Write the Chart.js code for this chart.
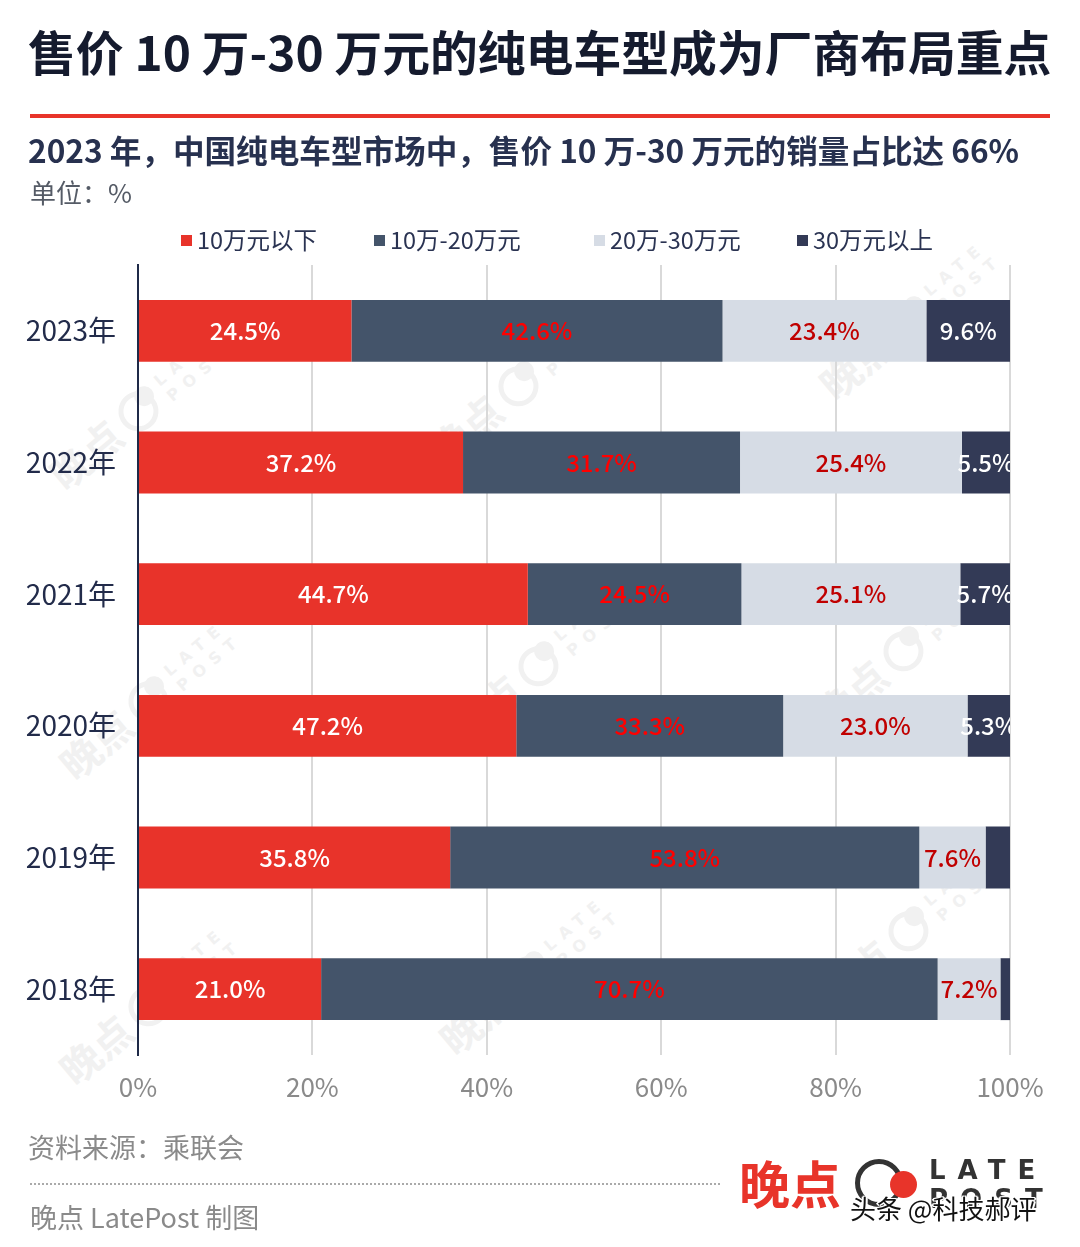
<!DOCTYPE html>
<html><head><meta charset="utf-8">
<script src="https://cdn.jsdelivr.net/npm/chart.js@4.4.0/dist/chart.umd.min.js"></script>
<style>
html,body{margin:0;padding:0;background:#fff;}
body{width:1080px;height:1247px;position:relative;overflow:hidden;font-family:"Noto Sans CJK SC","Noto Sans",sans-serif;}
#c{position:absolute;left:0;top:0;z-index:1;}
.t{position:absolute;white-space:nowrap;line-height:1;z-index:2;}
#title{left:28px;top:27px;font-size:47.8px;font-weight:700;color:#151b2e;}
#rule{position:absolute;left:30px;top:114px;width:1020px;height:4px;background:#e8342a;}
#sub{left:28px;top:134px;font-size:31.6px;font-weight:700;color:#27314f;}
#unit{left:30px;top:179px;font-size:26px;color:#555b66;}
.lg{position:absolute;top:228px;height:24px;display:flex;align-items:center;font-size:23.5px;color:#2a3352;line-height:1;z-index:2;}
.lg i{display:inline-block;width:11px;height:11px;margin-right:5px;}
#src{left:28px;top:1133px;font-size:27px;color:#8a8a8a;}
#dots{position:absolute;left:30px;top:1183px;width:690px;border-top:2px dotted #aaa;}
#by{left:30px;top:1203px;font-size:27px;color:#8a8a8a;}
#logo1{left:739px;top:1157px;font-size:51px;font-weight:700;color:#e8342a;}
#ring{position:absolute;left:855px;top:1159px;width:48px;height:48px;border:5px solid #333;border-radius:50%;box-sizing:border-box;z-index:2;}
#dot{position:absolute;left:890px;top:1171px;width:27px;height:27px;background:#e8342a;border-radius:50%;z-index:2;}
#late,#post{font-size:26px;font-weight:700;color:#333;letter-spacing:12px;font-family:"DejaVu Sans","Noto Sans",sans-serif;}
#late{left:929px;top:1157px;}
#post{left:929px;top:1186px;}
#wm{left:850px;top:1195px;font-size:26px;color:#111;text-shadow:-1px -1px 0 #fff,1px -1px 0 #fff,-1px 1px 0 #fff,1px 1px 0 #fff,2px 0 0 #fff,-2px 0 0 #fff;z-index:3;}
.wmk{position:absolute;z-index:0;transform:rotate(-40deg);transform-origin:center;width:220px;height:60px;color:#f1f1f1;}
.wmk b{position:absolute;left:0;top:8px;font-size:40px;font-weight:700;line-height:1;}
.wmk s{position:absolute;left:88px;top:10px;width:40px;height:40px;border:5px solid #f1f1f1;border-radius:50%;box-sizing:border-box;text-decoration:none;}
.wmk u{position:absolute;left:112px;top:12px;width:20px;height:20px;background:#f1f1f1;border-radius:50%;}
.wmk em{position:absolute;left:140px;top:10px;font-size:16px;font-style:normal;font-weight:700;letter-spacing:8px;line-height:20px;font-family:"DejaVu Sans",sans-serif;}
</style></head>
<body>
<div id="wmks"></div>
<canvas id="c" width="1080" height="1247"></canvas>
<div class="t" id="title">售价 10 万-30 万元的纯电车型成为厂商布局重点</div>
<div id="rule"></div>
<div class="t" id="sub">2023 年，中国纯电车型市场中，售价 10 万-30 万元的销量占比达 66%</div>
<div class="t" id="unit">单位：%</div>
<div id="legend"></div>
<div class="t" id="src">资料来源：乘联会</div>
<div id="dots"></div>
<div class="t" id="by">晚点 LatePost 制图</div>
<div class="t" id="logo1">晚点</div>
<div id="ring"></div><div id="dot"></div>
<div class="t" id="late">LATE</div>
<div class="t" id="post">POST</div>
<div class="t" id="wm">头条 @科技郝评</div>
<script>
// ---- data ----
const years = ['2023年','2022年','2021年','2020年','2019年','2018年'];
const seriesNames = ['10万元以下','10万-20万元','20万-30万元','30万元以上'];
const under10 = [24.5, 37.2, 44.7, 47.2, 35.8, 21.0];
const from10to20 = [42.6, 31.7, 24.5, 33.3, 53.8, 70.7];
const from20to30 = [23.4, 25.4, 25.1, 23.0, 7.6, 7.2];
const over30 = [9.6, 5.5, 5.7, 5.3, 2.8, 1.1];
const over30Labelled = [true, true, true, true, false, false];
const xTicks = [0, 20, 40, 60, 80, 100];

const colors = ['#e8332a', '#44546a', '#d6dce5', '#333a56'];
const labelColors = ['#ffffff', '#ff0000', '#c00000', '#ffffff'];
const raw = [under10, from10to20, from20to30, over30];
const totals = years.map((_, i) => raw.reduce((s, arr) => s + arr[i], 0));

// faint background watermarks
const wmCenters = [[140,410],[520,385],[910,320],[150,700],[540,665],[905,650],[150,1005],[530,975],[910,930]];
const wmBox = document.getElementById('wmks');
wmCenters.forEach(([x, y]) => {
  const d = document.createElement('div');
  d.className = 'wmk';
  d.style.left = (x - 110) + 'px'; d.style.top = (y - 30) + 'px';
  d.innerHTML = '<b>晚点</b><s></s><u></u><em>LATE<br>POST</em>';
  wmBox.appendChild(d);
});

// legend (HTML)
const lgLeft = [181, 374, 594, 797];
const lg = document.getElementById('legend');
seriesNames.forEach((n, i) => {
  const d = document.createElement('div');
  d.className = 'lg'; d.style.left = lgLeft[i] + 'px';
  d.innerHTML = '<i style="background:' + colors[i] + '"></i>' + n;
  lg.appendChild(d);
});

const datasets = raw.map((arr, k) => ({
  label: seriesNames[k],
  data: arr.map((v, i) => v / totals[i] * 100),
  rawValues: arr,
  backgroundColor: colors[k],
  borderWidth: 0,
  barPercentage: 0.47,
  categoryPercentage: 1.0
}));

const valueLabels = {
  id: 'valueLabels',
  afterDatasetsDraw(chart) {
    const ctx = chart.ctx, a = chart.chartArea;
    ctx.save();
    ctx.beginPath(); ctx.rect(a.left, a.top, a.right - a.left, a.bottom - a.top); ctx.clip();
    ctx.font = '500 24px "Noto Sans CJK SC"';
    ctx.textAlign = 'center'; ctx.textBaseline = 'middle';
    chart.data.datasets.forEach((ds, k) => {
      const meta = chart.getDatasetMeta(k);
      meta.data.forEach((bar, i) => {
        if (k === 3 && !over30Labelled[i]) return;
        const v = ds.rawValues[i];
        ctx.fillStyle = labelColors[k];
        ctx.fillText(v.toFixed(1) + '%', (bar.x + bar.base) / 2, bar.y);
      });
    });
    ctx.restore();
  }
};

new Chart(document.getElementById('c'), {
  type: 'bar',
  data: { labels: years, datasets },
  options: {
    indexAxis: 'y',
    responsive: false,
    animation: false,
    devicePixelRatio: 1,
    layout: { padding: { top: 265, right: 70, bottom: 132, left: 0 } },
    plugins: { legend: { display: false }, tooltip: { enabled: false } },
    scales: {
      x: {
        stacked: true, min: 0, max: 100,
        afterBuildTicks(s) { s.ticks = xTicks.map(v => ({ value: v })); },
        afterFit(s) { s.height = 60; },
        ticks: { callback: v => v + '%', color: '#8a8a8a', font: { family: 'Noto Sans CJK SC', size: 26 }, padding: 17 },
        grid: { drawTicks: false, lineWidth: 2, color: c => (c.tick && c.tick.value === 0) ? 'rgba(0,0,0,0)' : '#d9d9d9' },
        border: { display: false }
      },
      y: {
        stacked: true,
        afterFit(s) { s.width = 138; },
        ticks: { color: '#222b4a', font: { family: 'Noto Sans CJK SC', size: 28 }, padding: 22 },
        grid: { display: false, drawTicks: false },
        border: { display: true, color: '#1f2a48', width: 2 }
      }
    }
  },
  plugins: [valueLabels]
});
</script>
</body></html>
